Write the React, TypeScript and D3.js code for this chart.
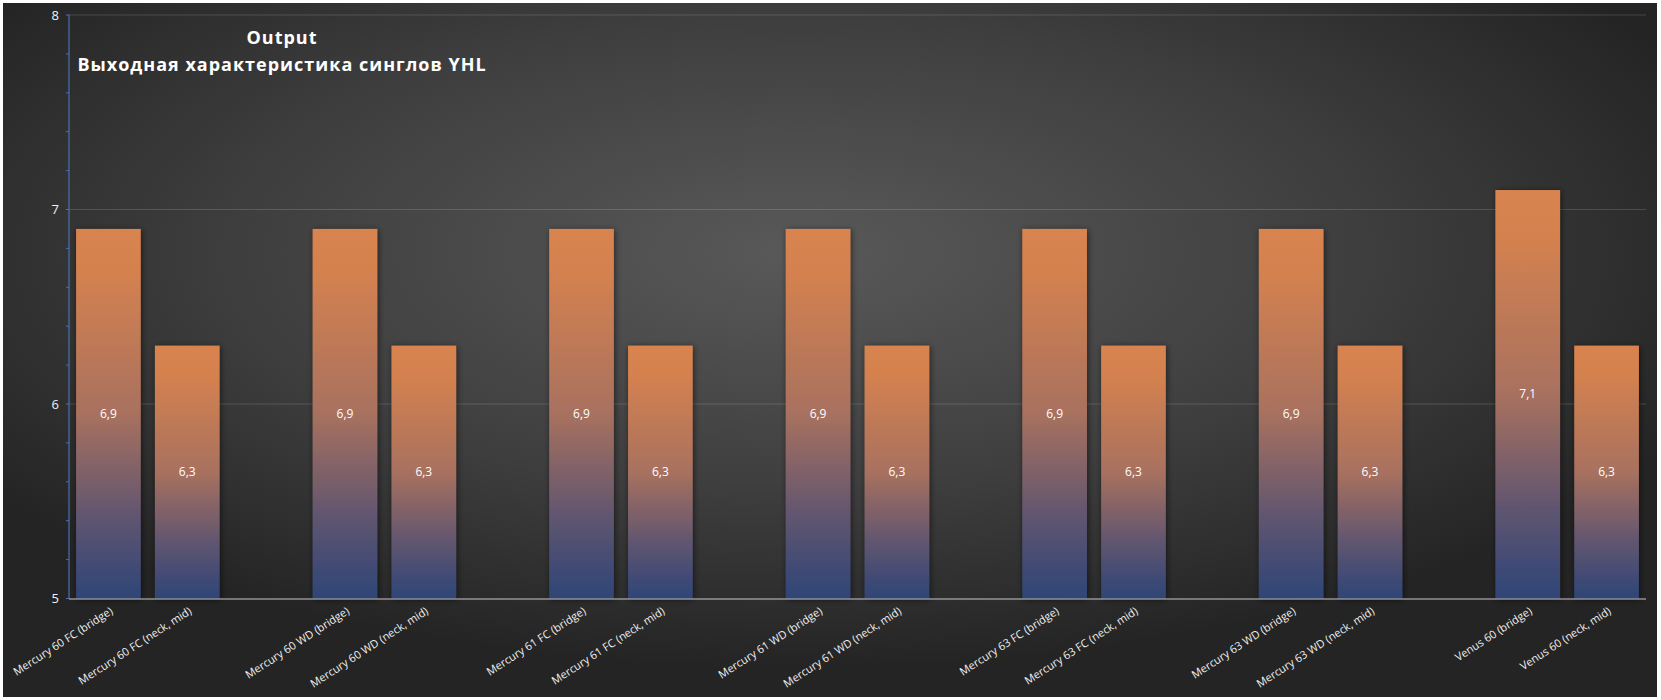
import React from "react";
import * as d3 from "d3";

// Output of YHL single-coil pickups; blanks separate the models
const categories = [
  "Mercury 60 FC (bridge)", "Mercury 60 FC (neck, mid)", "",
  "Mercury 60 WD (bridge)", "Mercury 60 WD (neck, mid)", "",
  "Mercury 61 FC (bridge)", "Mercury 61 FC (neck, mid)", "",
  "Mercury 61 WD (bridge)", "Mercury 61 WD (neck, mid)", "",
  "Mercury 63 FC (bridge)", "Mercury 63 FC (neck, mid)", "",
  "Mercury 63 WD (bridge)", "Mercury 63 WD (neck, mid)", "",
  "Venus 60 (bridge)", "Venus 60 (neck, mid)",
];
const values: (number | null)[] = [
  6.9, 6.3, null,
  6.9, 6.3, null,
  6.9, 6.3, null,
  6.9, 6.3, null,
  6.9, 6.3, null,
  6.9, 6.3, null,
  7.1, 6.3,
];
const yTicks = [5, 6, 7, 8];
const titleLines = ["Output", "Выходная характеристика синглов YHL"];

const W = 1661;
const H = 700;
const font = "'Open Sans', 'Noto Sans', sans-serif";
const ruFormat = d3.formatLocale({
  decimal: ",",
  thousands: " ",
  grouping: [3],
  currency: ["", ""],
}).format(".1f");

const App: React.FC = () => {
  const x = d3
    .scaleBand<number>()
    .domain(categories.map((_, i) => i))
    .range([69, 1646])
    .paddingInner(0.18)
    .paddingOuter(0.09);
  const y = d3.scaleLinear().domain([5, 8]).range([598.5, 15]);
  const minorTicks = d3.range(5, 8.001, 0.2).map((v) => +v.toFixed(1));

  return (
    <svg
      width={W}
      height={H}
      style={{ position: "absolute", left: 0, top: 0, background: "#fff" }}
    >
      <defs>
        <radialGradient id="bg" cx="48%" cy="36%" r="60%">
          <stop offset="0%" stopColor="#595959" />
          <stop offset="55%" stopColor="#3f3f3f" />
          <stop offset="100%" stopColor="#242424" />
        </radialGradient>
        <linearGradient id="bar" x1="0" y1="0" x2="0" y2="1">
          <stop offset="0%" stopColor="#d9844f" />
          <stop offset="12%" stopColor="#d4814f" />
          <stop offset="50%" stopColor="#a8715f" />
          <stop offset="78%" stopColor="#605570" />
          <stop offset="100%" stopColor="#2e4577" />
        </linearGradient>
        <filter id="shadow" x="-20%" y="-10%" width="140%" height="120%">
          <feDropShadow dx="1" dy="1" stdDeviation="3" floodColor="#000" floodOpacity="0.55" />
        </filter>
      </defs>

      <rect x={3} y={3} width={1654} height={694} fill="url(#bg)" />

      {/* gridlines */}
      {yTicks.slice(1).map((t) => (
        <line
          key={t}
          x1={69}
          x2={1646}
          y1={y(t)}
          y2={y(t)}
          stroke="#ffffff"
          strokeOpacity={0.15}
          strokeWidth={1}
        />
      ))}

      {/* bars */}
      {values.map((v, i) =>
        v == null ? null : (
          <rect
            key={i}
            x={x(i)}
            y={y(v)}
            width={x.bandwidth()}
            height={y(5) - y(v)}
            fill="url(#bar)"
            filter="url(#shadow)"
          />
        )
      )}

      {/* data labels */}
      {values.map((v, i) =>
        v == null ? null : (
          <text
            key={i}
            x={(x(i) ?? 0) + x.bandwidth() / 2}
            y={(y(v) + y(5)) / 2}
            dy="0.35em"
            textAnchor="middle"
            fill="#ffffff"
            fontSize={12}
            fontFamily={font}
          >
            {ruFormat(v)}
          </text>
        )
      )}

      {/* y axis */}
      <line x1={69} x2={69} y1={y(8)} y2={y(5)} stroke="#4a70b0" strokeWidth={1.2} />
      {minorTicks.map((t) => (
        <line key={t} x1={66} x2={69} y1={y(t)} y2={y(t)} stroke="#4a70b0" strokeWidth={1} />
      ))}
      {yTicks.map((t) => (
        <text
          key={t}
          x={59}
          y={y(t)}
          dy="0.35em"
          textAnchor="end"
          fill="#f2f2f2"
          fontSize={13}
          fontFamily={font}
        >
          {t}
        </text>
      ))}

      {/* x axis */}
      <line x1={69} x2={1646} y1={y(5) + 0.5} y2={y(5) + 0.5} stroke="#c8c8c8" strokeWidth={1.2} />
      {categories.map((c, i) =>
        c === "" ? null : (
          <text
            key={i}
            transform={`translate(${(x(i) ?? 0) + x.bandwidth() / 2 + 1},${y(5) + 8}) rotate(-33)`}
            dy="0.7em"
            textAnchor="end"
            fill="#f0f0f0"
            fontSize={11}
            fontFamily={font}
          >
            {c}
          </text>
        )
      )}

      {/* title */}
      {titleLines.map((line, i) => (
        <text
          key={i}
          x={282}
          y={44 + i * 27}
          textAnchor="middle"
          fill="#ffffff"
          fontSize={18}
          fontWeight="bold"
          letterSpacing={1}
          fontFamily={font}
        >
          {line}
        </text>
      ))}
    </svg>
  );
};

export default App;
